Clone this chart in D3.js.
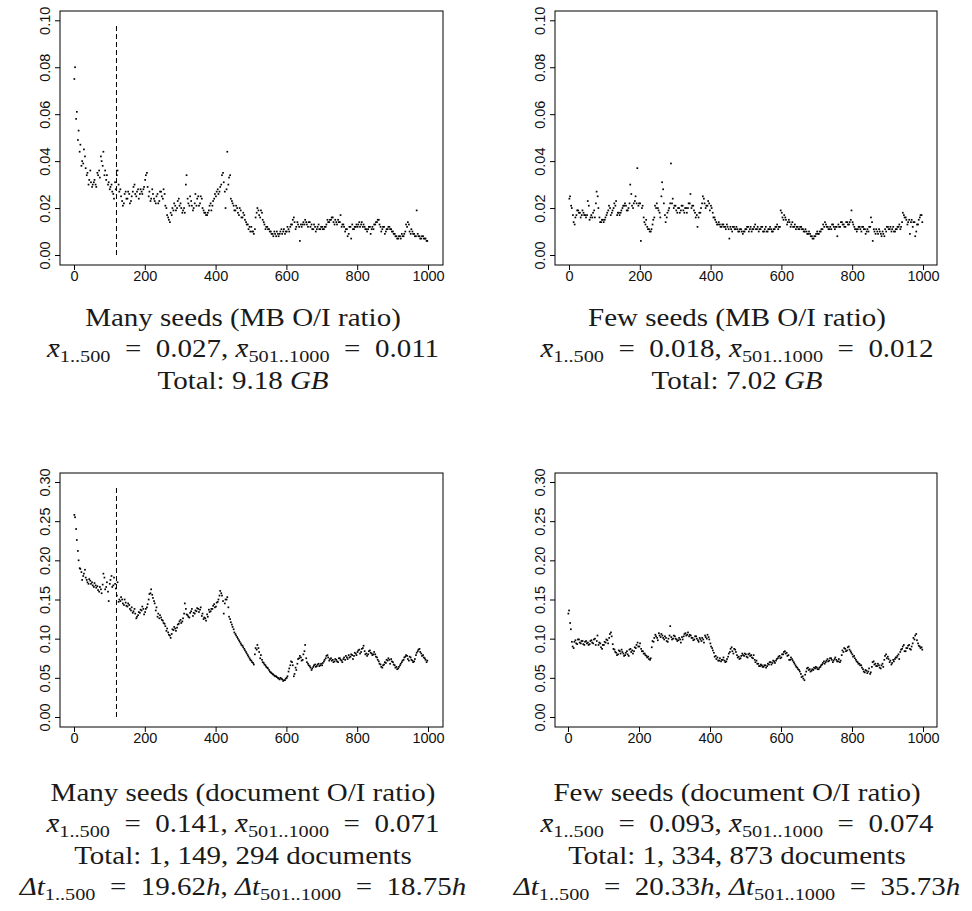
<!DOCTYPE html>
<html>
<head>
<meta charset="utf-8">
<script src="https://cdn.jsdelivr.net/npm/d3@7"></script>
<style>
  body { margin: 0; background: #fff; }
  svg { display: block; }
  text { white-space: pre; }
</style>
</head>
<body>
<svg id="fig" width="972" height="911"></svg>
<script>
// run numbers of the samples (two interleaved sets)
const runsA = d3.range(3, 1000, 5);
const runsB = d3.range(1, 1000, 5);

// MB O/I ratio, many seeds
const manyMB = [
  .080,.061,.053,.047,.040,.045,.037,.035,.032,.031,
  .030,.032,.029,.034,.033,.040,.044,.036,.034,.031,
  .029,.027,.024,.028,.036,.027,.025,.021,.026,.024,
  .027,.022,.025,.029,.026,.027,.024,.028,.026,.029,
  .034,.029,.027,.024,.026,.023,.025,.022,.027,.025,
  .028,.021,.017,.015,.018,.020,.022,.019,.023,.021,
  .020,.019,.018,.034,.022,.025,.021,.020,.026,.024,
  .021,.025,.020,.018,.017,.018,.021,.019,.023,.026,
  .027,.026,.029,.034,.031,.020,.044,.033,.024,.022,
  .019,.021,.018,.020,.016,.018,.015,.013,.011,.010,
  .010,.009,.016,.020,.017,.019,.015,.013,.012,.011,
  .010,.009,.008,.009,.010,.008,.010,.009,.011,.010,
  .012,.010,.013,.015,.014,.012,.013,.006,.012,.014,
  .015,.013,.014,.012,.011,.013,.010,.012,.011,.012,
  .011,.012,.013,.014,.015,.016,.014,.015,.013,.014,
  .017,.013,.012,.011,.008,.012,.007,.011,.012,.013,
  .013,.012,.014,.013,.011,.010,.012,.009,.012,.013,
  .014,.015,.013,.010,.012,.009,.011,.012,.011,.010,
  .009,.008,.007,.008,.007,.008,.009,.013,.014,.010,
  .011,.009,.008,.019,.008,.007,.008,.007,.007,.006
];
const manyMB2 = [
  .075,.058,.049,.044,.038,.039,.042,.034,.030,.036,
  .029,.031,.030,.035,.036,.042,.038,.034,.032,.030,
  .028,.030,.026,.031,.034,.030,.028,.023,.022,.027,
  .024,.026,.023,.027,.030,.025,.028,.026,.027,.028,
  .032,.035,.025,.023,.028,.024,.022,.026,.023,.027,
  .024,.026,.020,.016,.014,.017,.019,.021,.020,.024,
  .022,.018,.020,.030,.024,.021,.023,.019,.022,.021,
  .025,.022,.024,.019,.018,.017,.019,.022,.021,.024,
  .025,.028,.027,.030,.035,.027,.028,.030,.034,.023,
  .021,.019,.020,.017,.019,.016,.017,.014,.013,.012,
  .012,.010,.011,.018,.019,.016,.018,.014,.011,.012,
  .011,.010,.009,.010,.008,.009,.009,.011,.010,.009,
  .010,.011,.012,.013,.016,.011,.014,.012,.013,.013,
  .013,.014,.012,.014,.013,.011,.012,.011,.013,.011,
  .012,.011,.012,.015,.014,.015,.016,.013,.014,.015,
  .014,.012,.013,.010,.011,.009,.012,.013,.011,.012,
  .012,.014,.013,.012,.012,.011,.011,.012,.011,.011,
  .013,.014,.015,.012,.011,.012,.010,.011,.012,.011,
  .010,.009,.008,.007,.008,.009,.008,.010,.012,.013,
  .009,.010,.009,.008,.009,.008,.007,.008,.007,.006
];

// MB O/I ratio, few seeds
const fewMB = [
  .025,.020,.014,.016,.019,.018,.016,.019,.017,.016,
  .023,.015,.017,.018,.016,.027,.020,.014,.015,.014,
  .016,.018,.021,.017,.019,.022,.023,.018,.017,.019,
  .021,.022,.019,.020,.030,.021,.022,.025,.037,.022,
  .006,.021,.014,.015,.011,.010,.011,.015,.021,.022,
  .019,.016,.031,.022,.014,.018,.020,.039,.024,.021,
  .019,.020,.018,.021,.019,.020,.018,.022,.026,.021,
  .019,.016,.012,.018,.020,.025,.022,.021,.023,.019,
  .020,.016,.015,.013,.014,.012,.013,.012,.011,.012,
  .007,.011,.012,.011,.012,.010,.011,.010,.010,.011,
  .012,.010,.012,.011,.012,.011,.012,.011,.012,.010,
  .011,.010,.011,.012,.010,.011,.012,.013,.012,.019,
  .016,.017,.015,.014,.014,.013,.012,.013,.012,.011,
  .012,.011,.010,.011,.009,.010,.008,.007,.008,.009,
  .009,.010,.011,.013,.014,.012,.011,.012,.013,.012,
  .012,.008,.012,.014,.013,.012,.014,.013,.014,.019,
  .013,.011,.010,.012,.011,.012,.011,.009,.011,.012,
  .016,.006,.010,.011,.009,.010,.008,.009,.011,.012,
  .011,.012,.011,.010,.011,.012,.013,.012,.018,.016,
  .015,.014,.009,.015,.014,.008,.013,.015,.017,.014
];
const fewMB2 = [
  .024,.021,.017,.013,.017,.019,.018,.017,.018,.017,
  .017,.021,.016,.016,.019,.022,.025,.016,.014,.015,
  .015,.017,.019,.020,.018,.020,.021,.017,.018,.018,
  .020,.021,.021,.019,.022,.026,.020,.023,.022,.021,
  .022,.020,.016,.013,.012,.011,.010,.013,.016,.020,
  .020,.018,.025,.028,.017,.016,.019,.022,.022,.020,
  .021,.018,.020,.019,.021,.018,.020,.020,.022,.020,
  .021,.018,.017,.016,.018,.022,.024,.020,.021,.022,
  .021,.018,.016,.014,.013,.013,.012,.013,.012,.013,
  .011,.012,.010,.012,.011,.011,.010,.011,.009,.010,
  .011,.012,.011,.010,.011,.013,.011,.010,.011,.012,
  .010,.012,.010,.011,.011,.010,.011,.012,.011,.012,
  .018,.015,.016,.013,.015,.012,.014,.012,.011,.012,
  .011,.012,.011,.010,.010,.009,.009,.008,.007,.008,
  .010,.009,.010,.011,.012,.013,.012,.011,.011,.013,
  .011,.012,.013,.012,.014,.013,.012,.014,.013,.015,
  .014,.012,.011,.011,.012,.010,.012,.011,.010,.010,
  .012,.014,.011,.009,.010,.011,.009,.010,.008,.010,
  .012,.011,.010,.012,.010,.011,.012,.011,.014,.017,
  .016,.013,.015,.014,.012,.014,.010,.013,.016,.017
];

// document O/I ratio, many seeds
const manyDoc = [
  .255,.226,.200,.189,.175,.183,.178,.172,.176,.170,
  .168,.171,.165,.162,.166,.158,.183,.163,.172,.148,
  .175,.166,.178,.164,.172,.150,.153,.145,.150,.142,
  .145,.138,.140,.135,.132,.128,.134,.137,.141,.131,
  .138,.144,.157,.163,.152,.145,.140,.132,.130,.124,
  .120,.116,.113,.105,.101,.112,.115,.110,.118,.122,
  .120,.126,.145,.131,.128,.133,.138,.133,.136,.139,
  .134,.140,.132,.127,.123,.128,.134,.138,.142,.140,
  .146,.150,.161,.155,.132,.150,.153,.128,.121,.115,
  .108,.104,.100,.096,.092,.089,.085,.081,.077,.073,
  .070,.067,.088,.092,.083,.079,.070,.067,.064,.062,
  .058,.056,.054,.052,.051,.049,.050,.048,.047,.049,
  .052,.062,.071,.066,.055,.060,.074,.078,.072,.080,
  .092,.070,.066,.063,.062,.066,.064,.067,.065,.068,
  .069,.073,.078,.076,.074,.072,.070,.074,.071,.075,
  .073,.070,.076,.078,.074,.076,.080,.074,.082,.079,
  .085,.081,.087,.091,.080,.078,.084,.082,.079,.083,
  .077,.073,.068,.064,.066,.070,.073,.075,.068,.071,
  .067,.063,.061,.064,.068,.072,.076,.079,.074,.077,
  .073,.070,.074,.082,.086,.083,.078,.076,.073,.072
];
const manyDoc2 = [
  .258,.240,.212,.190,.185,.180,.188,.175,.170,.174,
  .172,.166,.168,.167,.160,.163,.169,.178,.166,.160,
  .170,.180,.168,.170,.155,.147,.148,.150,.143,.146,
  .141,.143,.136,.133,.138,.126,.130,.133,.136,.138,
  .134,.140,.150,.158,.156,.148,.136,.128,.126,.127,
  .123,.119,.110,.108,.104,.106,.111,.113,.114,.119,
  .124,.122,.132,.138,.130,.127,.135,.129,.132,.135,
  .138,.137,.129,.125,.126,.131,.137,.135,.138,.144,
  .141,.147,.155,.158,.148,.145,.150,.140,.125,.118,
  .112,.106,.102,.098,.094,.091,.087,.083,.079,.075,
  .072,.069,.080,.086,.088,.075,.073,.069,.066,.063,
  .060,.057,.055,.053,.052,.050,.048,.049,.046,.047,
  .050,.058,.066,.070,.052,.063,.068,.075,.076,.073,
  .084,.075,.068,.065,.060,.064,.067,.065,.068,.066,
  .066,.071,.075,.079,.072,.075,.073,.071,.073,.070,
  .075,.072,.074,.073,.076,.079,.077,.079,.078,.081,
  .083,.086,.083,.088,.084,.081,.080,.085,.081,.080,
  .080,.076,.071,.067,.063,.067,.069,.072,.073,.074,
  .070,.066,.064,.062,.066,.070,.073,.077,.078,.072,
  .076,.072,.071,.079,.084,.087,.081,.079,.075,.070
];

// document O/I ratio, few seeds
const fewDoc = [
  .136,.112,.090,.096,.094,.099,.095,.097,.093,.096,
  .094,.092,.097,.095,.099,.092,.104,.095,.089,.092,
  .096,.099,.094,.106,.103,.087,.083,.079,.085,.081,
  .083,.078,.082,.080,.086,.083,.081,.089,.092,.090,
  .094,.084,.081,.079,.076,.074,.075,.097,.101,.103,
  .098,.104,.106,.101,.103,.097,.100,.116,.099,.104,
  .100,.097,.101,.095,.099,.106,.104,.108,.105,.101,
  .098,.103,.100,.096,.099,.101,.095,.102,.105,.099,
  .090,.085,.077,.074,.072,.075,.073,.076,.070,.074,
  .081,.087,.084,.087,.083,.076,.074,.078,.079,.081,
  .077,.080,.078,.076,.079,.070,.068,.065,.067,.064,
  .066,.063,.068,.070,.067,.072,.069,.074,.077,.075,
  .080,.083,.081,.078,.073,.076,.072,.068,.064,.061,
  .058,.051,.049,.054,.062,.060,.058,.061,.063,.064,
  .061,.063,.066,.069,.068,.072,.071,.075,.073,.072,
  .076,.071,.074,.072,.085,.088,.084,.089,.086,.082,
  .077,.075,.071,.068,.066,.063,.058,.060,.056,.062,
  .057,.070,.067,.065,.068,.063,.066,.064,.078,.075,
  .074,.072,.069,.071,.076,.078,.074,.086,.090,.084,
  .088,.091,.087,.090,.101,.104,.098,.091,.088,.086
];
const fewDoc2 = [
  .132,.120,.096,.088,.098,.093,.099,.094,.097,.092,
  .097,.095,.093,.098,.094,.100,.097,.092,.094,.087,
  .092,.095,.098,.101,.108,.093,.086,.082,.080,.084,
  .086,.081,.079,.084,.078,.087,.085,.084,.088,.095,
  .090,.087,.084,.081,.078,.077,.073,.089,.096,.105,
  .101,.107,.102,.104,.099,.101,.096,.104,.102,.100,
  .103,.099,.098,.099,.102,.103,.107,.105,.103,.104,
  .101,.099,.103,.098,.101,.097,.099,.104,.100,.102,
  .094,.088,.082,.078,.076,.072,.071,.073,.072,.071,
  .077,.083,.089,.081,.086,.079,.077,.075,.081,.078,
  .080,.076,.081,.079,.075,.073,.072,.068,.065,.066,
  .064,.066,.065,.067,.070,.069,.071,.072,.075,.078,
  .076,.080,.084,.082,.079,.073,.074,.070,.066,.063,
  .060,.055,.052,.047,.058,.063,.061,.059,.060,.062,
  .063,.061,.064,.067,.071,.070,.074,.072,.075,.070,
  .074,.073,.071,.070,.079,.083,.087,.085,.090,.084,
  .080,.078,.073,.070,.068,.066,.061,.057,.059,.058,
  .055,.064,.071,.068,.065,.066,.062,.068,.073,.080,
  .077,.070,.067,.073,.074,.076,.080,.083,.087,.092,
  .084,.088,.092,.086,.094,.099,.106,.094,.090,.089
];

const xTicks = [0, 200, 400, 600, 800, 1000];
const mbTicks = [0, 0.02, 0.04, 0.06, 0.08, 0.10];
const docTicks = [0, 0.05, 0.10, 0.15, 0.20, 0.25, 0.30];

// seed phase ends at run 120 (dashed marker in the "many seeds" runs)
const seedCut = 120;

// captions: *...* italic, _{...} subscript
const capManyMB = [
  "Many seeds (MB O/I ratio)",
  "*x\u0304*_{1..500} = 0.027, *x\u0304*_{501..1000} = 0.011",
  "Total: 9.18 *GB*"
];
const capFewMB = [
  "Few seeds (MB O/I ratio)",
  "*x\u0304*_{1..500} = 0.018, *x\u0304*_{501..1000} = 0.012",
  "Total: 7.02 *GB*"
];
const capManyDoc = [
  "Many seeds (document O/I ratio)",
  "*x\u0304*_{1..500} = 0.141, *x\u0304*_{501..1000} = 0.071",
  "Total: 1, 149, 294 documents",
  "*\u0394t*_{1..500} = 19.62*h*, *\u0394t*_{501..1000} = 18.75*h*"
];
const capFewDoc = [
  "Few seeds (document O/I ratio)",
  "*x\u0304*_{1..500} = 0.093, *x\u0304*_{501..1000} = 0.074",
  "Total: 1, 334, 873 documents",
  "*\u0394t*_{1..500} = 20.33*h*, *\u0394t*_{501..1000} = 35.73*h*"
];

const panels = [
  { a: manyMB, b: manyMB2, yMax: 0.1, ticks: mbTicks, box: [60, 11, 443, 265], xr: [74, 428], yr: [255, 20.3], cut: 0.098, cap: capManyMB, capX: 243, capY: 326 },
  { a: fewMB, b: fewMB2, yMax: 0.1, ticks: mbTicks, box: [555, 11, 937, 265], xr: [569, 923], yr: [255, 20.3], cut: null, cap: capFewMB, capX: 737, capY: 326 },
  { a: manyDoc, b: manyDoc2, yMax: 0.3, ticks: docTicks, box: [60, 473, 443, 727], xr: [74, 428], yr: [717, 482], cut: 0.294, cap: capManyDoc, capX: 243, capY: 801 },
  { a: fewDoc, b: fewDoc2, yMax: 0.3, ticks: docTicks, box: [555, 473, 937, 727], xr: [568, 923], yr: [717, 482], cut: null, cap: capFewDoc, capX: 737, capY: 801 }
];

const svg = d3.select("#fig");
const axisFont = "'Liberation Sans', Arial, sans-serif";
const capFont = "'Liberation Serif', 'Times New Roman', serif";
const capSize = 25;      // caption font, widened below to imitate the wide book face
const capStretch = 1.16;

panels.forEach(function(p) {
  let g = svg.append("g");
  let x = d3.scaleLinear().domain([0, 1000]).range(p.xr);
  let y = d3.scaleLinear().domain([0, p.yMax]).range(p.yr);
  let [l, t, r, b] = p.box;

  let pts = runsA.map((run, i) => [run, p.a[i]])
    .concat(runsB.map((run, i) => [run, p.b[i]]));

  // points
  g.selectAll("rect.pt")
    .data(pts).enter()
      .append("rect")
        .attr("class", "pt")
        .attr("x", d => x(d[0]) - 0.85)
        .attr("y", d => y(d[1]) - 0.85)
        .attr("width", 1.7)
        .attr("height", 1.7)
        .attr("fill", "#000");

  // end of seed phase
  if (p.cut !== null) {
    g.append("line")
      .attr("x1", x(seedCut)).attr("x2", x(seedCut))
      .attr("y1", y(0)).attr("y2", y(p.cut))
      .attr("stroke", "#000")
      .attr("stroke-width", 1)
      .attr("stroke-dasharray", "5,3");
  }

  // box
  g.append("rect")
    .attr("x", l).attr("y", t)
    .attr("width", r - l).attr("height", b - t)
    .attr("fill", "none")
    .attr("stroke", "#000")
    .attr("stroke-width", 1);

  // x axis
  let xa = g.append("g")
    .attr("transform", `translate(0,${b})`)
    .call(d3.axisBottom(x).tickValues(xTicks).tickSize(5).tickFormat(d3.format("d")));
  xa.select(".domain").remove();
  xa.selectAll("text")
    .attr("y", 11).attr("dy", "0.35em")
    .attr("font-family", axisFont).attr("font-size", 14.5).attr("fill", "#111");

  // y axis, labels turned as in R
  let ya = g.append("g")
    .attr("transform", `translate(${l},0)`)
    .call(d3.axisLeft(y).tickValues(p.ticks).tickSize(5).tickFormat(d3.format(".2f")));
  ya.select(".domain").remove();
  ya.selectAll("text")
    .attr("transform", "rotate(-90)")
    .attr("x", 0).attr("y", -15.5).attr("dy", "0.35em")
    .attr("text-anchor", "middle")
    .attr("font-family", axisFont).attr("font-size", 14.5).attr("fill", "#111");

  // caption
  p.cap.forEach(function(line, k) {
    let txt = g.append("text")
      .attr("transform", `translate(${p.capX},${p.capY + k * 31.3}) scale(${capStretch},1)`)
      .attr("text-anchor", "middle")
      .attr("font-family", capFont)
      .attr("font-size", capSize)
      .attr("fill", "#1a1a1a");
    let down = false;
    line.replace(/ = /g, "\u2002=\u2002")
      .split(/(\*[^*]+\*|_\{[^}]+\})/).filter(s => s.length).forEach(function(s) {
        let ts = txt.append("tspan");
        if (s[0] === "_") {
          ts.text(s.slice(2, -1)).attr("font-size", "70%").attr("dy", 5);
          down = true;
          return;
        }
        if (down) { ts.attr("dy", -5); down = false; }
        if (s[0] === "*") ts.text(s.slice(1, -1)).attr("font-style", "italic");
        else ts.text(s);
      });
  });
});
</script>
</body>
</html>
